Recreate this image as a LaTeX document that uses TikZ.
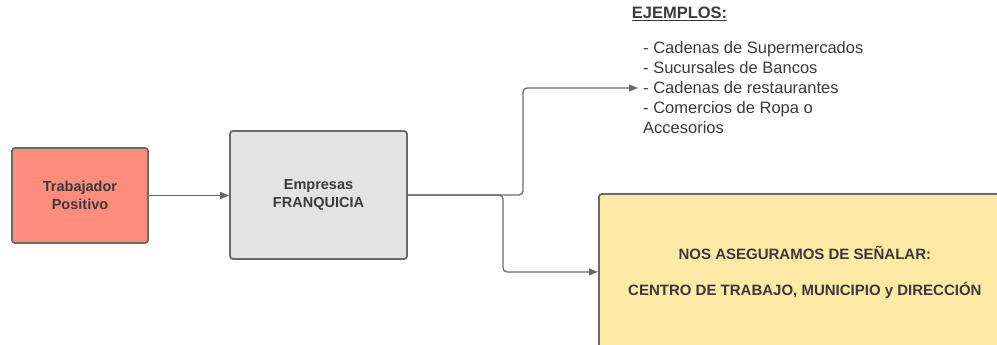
\documentclass[tikz,border=0pt]{standalone}
\usepackage{fontspec}
\setmainfont{Liberation Sans}
\usetikzlibrary{arrows.meta}
\definecolor{txt}{HTML}{3A3A3A}
\definecolor{edge}{HTML}{6A6A6A}
\definecolor{redf}{HTML}{FF8C7C}
\definecolor{grayf}{HTML}{E3E3E3}
\definecolor{yelf}{HTML}{FFE9A6}
\tikzset{
  boxnode/.style={draw=edge, line width=1.8pt, rounded corners=3pt, align=center, text=txt,
    font=\fontsize{14.5}{17.5}\selectfont\bfseries, inner sep=0pt},
  conn/.style={draw=edge, line width=1.3pt, rounded corners=4pt, -{Triangle[length=9pt,width=7pt]}},
  plain/.style={text=txt, inner sep=0pt}
}
\begin{document}
\begin{tikzpicture}[x=1pt,y=-1pt]
\useasboundingbox (0,0) rectangle (997,345);
\begin{scope}
\clip (0,0) rectangle (997,345);
\node[boxnode, fill=redf, minimum width=136pt, minimum height=95pt] (trab) at (80,195.5) {Trabajador\\Positivo};
\node[boxnode, fill=grayf, minimum width=177pt, minimum height=128pt] (emp) at (318.5,195) {Empresas\\FRANQUICIA};
\node[boxnode, fill=yelf, minimum width=412pt, minimum height=156pt, anchor=north west,
  font=\fontsize{15}{18}\selectfont\bfseries] (yel) at (598,193) {NOS ASEGURAMOS DE SEÑALAR:\\[18pt]CENTRO DE TRABAJO, MUNICIPIO y DIRECCIÓN};
\node[plain, font=\fontsize{16.5}{20}\selectfont\bfseries] (ej) at (679.5,14) {\underline{EJEMPLOS:}};
\node[plain, anchor=west, align=left, font=\fontsize{16.5}{20}\selectfont] (list) at (643,88)
  {- Cadenas de Supermercados\\- Sucursales de Bancos\\- Cadenas de restaurantes\\- Comercios de Ropa o\\Accesorios};
\coordinate (up) at (523,196);
\coordinate (down) at (503,196);
\draw[conn] (trab.east) -- (trab.east -| emp.west);
\draw[conn, shorten >=5pt] (emp.east) -- (emp.east -| up) |- (list.west);
\draw[conn] (emp.east) -- (emp.east -| down) |- (yel.west);
\end{scope}
\end{tikzpicture}
\end{document}
